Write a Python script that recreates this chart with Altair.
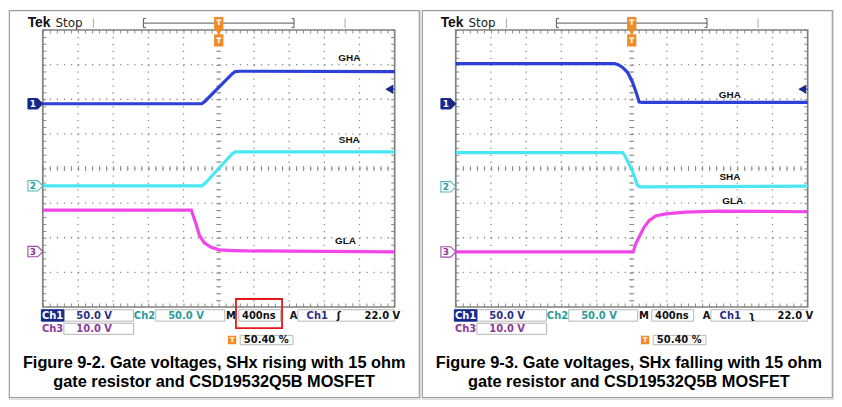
import altair as alt
import pandas as pd

# ---------------- waveform data ----------------
# x: horizontal divisions (0..10, 400 ns/div), y: vertical divisions from top (0..8)
# Figure 9-2 : SHx rising
L_GHA_X = [0, 4.52, 4.62, 5.00, 5.38, 5.47, 5.60, 10]
L_GHA_Y = [2.13, 2.13, 2.05, 1.66, 1.27, 1.20, 1.19, 1.20]
L_SHA_X = [0, 4.52, 4.62, 5.00, 5.38, 5.47, 10]
L_SHA_Y = [4.50, 4.50, 4.42, 4.00, 3.58, 3.52, 3.52]
L_GLA_X = [0, 4.22, 4.28, 4.35, 4.45, 4.59, 4.77, 5.01, 5.40, 5.74, 10]
L_GLA_Y = [5.20, 5.20, 5.38, 5.59, 5.93, 6.15, 6.27, 6.35, 6.37, 6.38, 6.41]
# Figure 9-3 : SHx falling
R_GHA_X = [0, 4.51, 4.62, 4.74, 4.88, 5.02, 5.12, 5.21, 5.30, 10]
R_GHA_Y = [0.97, 0.97, 1.00, 1.08, 1.22, 1.50, 1.78, 2.08, 2.09, 2.09]
R_SHA_X = [0, 4.74, 4.80, 5.01, 5.17, 5.25, 10]
R_SHA_Y = [3.54, 3.54, 3.62, 4.05, 4.50, 4.53, 4.51]
R_GLA_X = [0, 5.04, 5.12, 5.21, 5.35, 5.49, 5.68, 5.96, 6.52, 7.45, 10]
R_GLA_Y = [6.41, 6.41, 6.16, 5.98, 5.70, 5.51, 5.37, 5.31, 5.26, 5.23, 5.25]

L_GROUNDS = [2.13, 4.50, 6.40]
R_GROUNDS = [2.13, 4.53, 6.41]
TRIG_LEVEL_DIV = 1.71

SIGNAL_NAMES = ["GHA", "SHA", "GLA"]
L_LABEL_POS = [(8.71, 0.81), (8.71, 3.19), (8.60, 6.10)]
R_LABEL_POS = [(7.79, 1.87), (7.79, 4.25), (7.87, 4.95)]

CH_NAMES = ["Ch1", "Ch2", "Ch3"]
CH_SCALES = ["50.0 V", "50.0 V", "10.0 V"]
TIMEBASE = "400ns"
TRIG_SRC = "Ch1"
TRIG_LEVEL = "22.0 V"
TRIG_POS = "50.40 %"

L_CAPTION = ["Figure 9-2. Gate voltages, SHx rising with 15 ohm",
             "gate resistor and CSD19532Q5B MOSFET"]
R_CAPTION = ["Figure 9-3. Gate voltages, SHx falling with 15 ohm",
             "gate resistor and CSD19532Q5B MOSFET"]

C1, C2, C3 = "#2236d6", "#3fe6f0", "#f03ce8"
C1_TXT, C2_TXT, C3_TXT = "#2b2f86", "#2a9c9c", "#8b3a9b"
NAVY = "#17288a"
ORANGE = "#f28c28"
GRID = "#8c8c8c"

W, H = 413, 391
XS = alt.Scale(domain=[-0.96, 10.72], nice=False, zero=False)
YS = alt.Scale(domain=[-0.58, 10.66], nice=False, zero=False, reverse=True)


def _x():
    return alt.X("x:Q", scale=XS, axis=None)


def _y():
    return alt.Y("y:Q", scale=YS, axis=None)


def seg(rows, **kw):
    df = pd.DataFrame(rows, columns=["x", "x2", "y", "y2"])
    return alt.Chart(df).mark_rule(**kw).encode(x=_x(), x2="x2:Q", y=_y(), y2="y2:Q")


def boxes(rows, **kw):
    df = pd.DataFrame(rows, columns=["x", "x2", "y", "y2"])
    return alt.Chart(df).mark_rect(**kw).encode(x=_x(), x2="x2:Q", y=_y(), y2="y2:Q")


def texts(rows, **kw):
    df = pd.DataFrame(rows, columns=["x", "y", "t", "c"])
    return alt.Chart(df).mark_text(**kw).encode(
        x=_x(), y=_y(), text="t:N", color=alt.Color("c:N", scale=None))


def pts(rows, **kw):
    df = pd.DataFrame(rows, columns=["x", "y"])
    return alt.Chart(df).mark_point(**kw).encode(x=_x(), y=_y())


def trace(xs, ys, color):
    df = pd.DataFrame({"x": xs, "y": ys, "i": list(range(len(xs)))})
    return alt.Chart(df).mark_line(color=color, strokeWidth=3.2, opacity=0.95).encode(
        x=_x(), y=_y(), order="i:Q")


GROUND_SHAPE = "M-1,-0.7 L0.3,-0.7 L1,0 L0.3,0.7 L-1,0.7 Z"
TALL_RECT = "M-0.7,-1 L0.7,-1 L0.7,1 L-0.7,1 Z"


def panel(tr, grounds, label_pos, trig_sym, caption, cap_x, right_edge, red_box):
    L = []
    # outer panel frame
    L.append(boxes([(-0.95, right_edge, -0.56, 10.62)], filled=False, stroke="#9c9c9c", strokeWidth=1.2))
    # top status bar
    L.append(seg([(1.44, 1.44, -0.34, -0.06), (8.59, 8.59, -0.34, -0.06)], color="#a8a8a8", strokeWidth=1))
    L.append(seg([(2.86, 7.14, -0.20, -0.20), (2.86, 2.86, -0.33, -0.07), (7.14, 7.14, -0.33, -0.07),
                  (2.86, 2.93, -0.33, -0.33), (2.86, 2.93, -0.07, -0.07),
                  (7.07, 7.14, -0.33, -0.33), (7.07, 7.14, -0.07, -0.07)],
                 color="#555555", strokeWidth=1))
    L.append(texts([(-0.43, -0.08, "Tek", "#111111")], font="Liberation Sans", fontSize=14,
                   fontWeight="bold", align="left", baseline="alphabetic"))
    L.append(texts([(0.36, -0.08, "Stop", "#222222")], font="DejaVu Sans", fontSize=12,
                   align="left", baseline="alphabetic"))
    # graticule dotted lines
    L.append(seg([(i, i, 0, 8) for i in range(1, 10)], color=GRID, strokeWidth=1.3, strokeDash=[1.3, 5.66]))
    L.append(seg([(0, 10, j, j) for j in range(1, 8)], color=GRID, strokeWidth=1.3, strokeDash=[1.3, 5.77]))
    # centre-line and edge ticks
    L.append(seg([(5, 5, 0, 8)], color=GRID, strokeWidth=5, strokeDash=[1, 5.96]))
    L.append(seg([(0, 10, 4, 4)], color=GRID, strokeWidth=5, strokeDash=[1, 6.07]))
    L.append(seg([(0.05, 0.05, 0, 8), (9.95, 9.95, 0, 8)], color=GRID, strokeWidth=3.5, strokeDash=[1, 5.96]))
    L.append(seg([(0, 10, 0.05, 0.05), (0, 10, 7.95, 7.95)], color=GRID, strokeWidth=3.5, strokeDash=[1, 6.07]))
    L.append(boxes([(0, 10, 0, 8)], filled=False, stroke="#808080", strokeWidth=1.7))
    # trigger position markers
    L.append(pts([(5, -0.20), (5, 0.30)], shape=TALL_RECT, size=110, filled=True, fill=ORANGE,
                 stroke=ORANGE, opacity=1))
    L.append(pts([(5, 0.03)], shape="triangle-down", size=28, filled=True, fill=ORANGE, stroke=ORANGE, opacity=1))
    L.append(texts([(5, -0.19, "T", "white"), (5, 0.31, "T", "white")], font="DejaVu Sans",
                   fontSize=7.5, fontWeight="bold", align="center", baseline="middle"))
    # traces
    for (xs, ys), col in zip(tr, [C1, C2, C3]):
        L.append(trace(xs, ys, col))
    # signal names
    L.append(texts([(p[0], p[1], n, "#111111") for p, n in zip(label_pos, SIGNAL_NAMES)],
                   font="Liberation Sans", fontSize=10, fontWeight="bold", align="center", baseline="middle"))
    # trigger level indicator
    L.append(seg([(9.86, 10.0, TRIG_LEVEL_DIV, TRIG_LEVEL_DIV)], color=C1, strokeWidth=1.3))
    L.append(pts([(9.86, TRIG_LEVEL_DIV)], shape="triangle-left", size=32, filled=True, fill=NAVY,
                 stroke=NAVY, opacity=1))
    # channel ground markers
    L.append(pts([(-0.21, grounds[0])], shape=GROUND_SHAPE, size=225, filled=True, fill=NAVY,
                 stroke=NAVY, strokeWidth=1, opacity=1))
    L.append(pts([(-0.21, grounds[1])], shape=GROUND_SHAPE, size=225, filled=True, fill="white",
                 stroke="#55b8b8", strokeWidth=1.1, opacity=1))
    L.append(pts([(-0.21, grounds[2])], shape=GROUND_SHAPE, size=225, filled=True, fill="white",
                 stroke="#9e4aa8", strokeWidth=1.1, opacity=1))
    L.append(texts([(-0.28, grounds[0], "1", "white"), (-0.28, grounds[1], "2", C2_TXT),
                    (-0.28, grounds[2], "3", C3_TXT)], font="DejaVu Sans", fontSize=9,
                   fontWeight="bold", align="center", baseline="middle"))
    # settings read-out
    L.append(boxes([(0.60, 2.58, 8.08, 8.41), (3.21, 5.17, 8.08, 8.41), (5.57, 6.76, 8.08, 8.41),
                    (7.25, 10.0, 8.08, 8.41), (0.60, 2.58, 8.47, 8.79), (5.61, 7.11, 8.82, 9.09)],
                   fill="white", stroke="#b5b5b5", strokeWidth=1))
    L.append(boxes([(-0.04, 0.60, 8.08, 8.41)], fill=NAVY, stroke=NAVY, strokeWidth=1))
    L.append(pts([(5.38, 8.955)], shape="square", size=42, filled=True, fill=ORANGE, stroke=ORANGE, opacity=1))
    L.append(texts([(5.38, 8.96, "T", "white")], font="DejaVu Sans", fontSize=6.5, fontWeight="bold",
                   align="center", baseline="middle"))
    row1, row2, row3 = 8.25, 8.635, 8.96
    L.append(texts([
        (0.28, row1, CH_NAMES[0], "white"), (1.46, row1, CH_SCALES[0], C1_TXT),
        (2.89, row1, CH_NAMES[1], C2_TXT), (4.07, row1, CH_SCALES[1], C2_TXT),
        (5.35, row1, "M", "#111111"), (6.14, row1, TIMEBASE, "#111111"),
        (7.13, row1, "A", "#111111"), (7.80, row1, TRIG_SRC, C1_TXT),
        (8.41, row1, trig_sym, "#111111"), (9.65, row1, TRIG_LEVEL, "#111111"),
        (0.28, row2, CH_NAMES[2], C3_TXT), (1.46, row2, CH_SCALES[2], C3_TXT),
        (6.35, row3, TRIG_POS, "#111111"),
    ], font="DejaVu Sans", fontSize=10, fontWeight="bold", align="center", baseline="middle"))
    if red_box:
        L.append(boxes([(5.49, 6.80, 7.77, 8.61)], filled=False, stroke="#e5191b", strokeWidth=1.8))
    # caption
    L.append(texts([(cap_x, 9.77, caption[0], "#000000"), (cap_x, 10.31, caption[1], "#000000")],
                   font="Liberation Sans", fontSize=16.4, fontWeight="bold", align="center",
                   baseline="alphabetic"))
    return alt.layer(*L).properties(width=W, height=H)


left = panel([(L_GHA_X, L_GHA_Y), (L_SHA_X, L_SHA_Y), (L_GLA_X, L_GLA_Y)], L_GROUNDS, L_LABEL_POS,
             "\u0283", L_CAPTION, 4.87, 10.70, True)
right = panel([(R_GHA_X, R_GHA_Y), (R_SHA_X, R_SHA_Y), (R_GLA_X, R_GLA_Y)], R_GROUNDS, R_LABEL_POS,
              "\u0285", R_CAPTION, 4.92, 10.70, False)

chart = alt.hconcat(left, right, spacing=0, padding=0).configure_view(stroke="transparent").configure(
    background="white")

chart.save("out.html", embed_options={"renderer": "svg", "actions": False})
